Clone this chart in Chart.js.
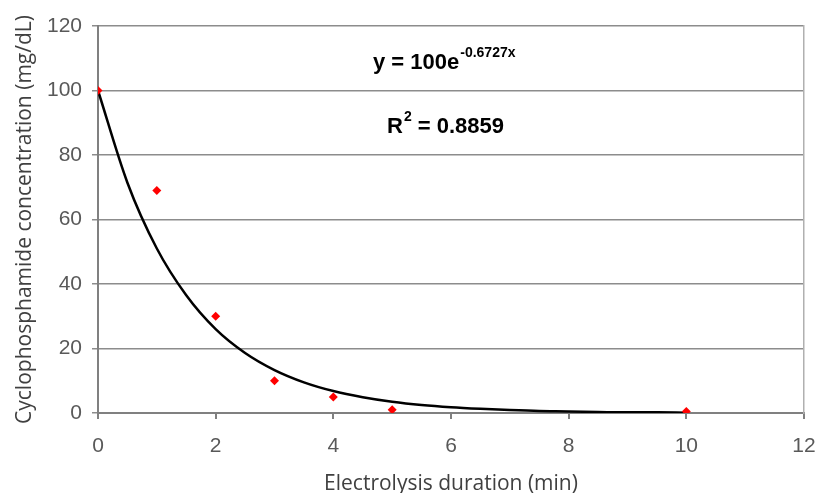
<!DOCTYPE html>
<html>
<head>
<meta charset="utf-8">
<script src="https://cdn.jsdelivr.net/npm/chart.js@4"></script>
<style>
  html, body { margin: 0; padding: 0; background: #fff; }
  #wrap { width: 818px; height: 493px; }
</style>
</head>
<body>
<div id="wrap"><canvas id="chart"></canvas></div>
<script>
// measured points
const durations = [0, 1, 2, 3, 4, 5, 10];
const concentrations = [100, 69, 30, 10, 5, 1, 0.5];

// exponential trendline
const fitX = [0, 0.5, 1, 1.5, 2, 2.5, 3, 3.5, 4, 4.5, 5, 5.5, 6, 6.5, 7, 7.5, 8, 8.5, 9, 9.5, 10];
const fitY = [100, 71.4, 51, 36.5, 26, 18.6, 13.3, 9.5, 6.8, 4.9, 3.5, 2.5, 1.8, 1.3, 0.9, 0.6, 0.5, 0.3, 0.2, 0.2, 0.1];

const xTitle = "Electrolysis duration (min)";
const yTitle = "Cyclophosphamide concentration (mg/dL)";
const eqMain = "y = 100e";
const eqExp = "-0.6727x";
const r2Label = "R";
const r2Value = " = 0.8859";

const tickFont = { family: "Liberation Sans, Arial", size: 21 };
const titleFont = { family: "Open Sans, Lato", size: 21 };

// draws the trendline equation and R² like the excel labels
const equationLabel = {
  id: "equationLabel",
  afterDatasetsDraw: function (chart) {
    const ctx = chart.ctx;
    ctx.save();
    ctx.fillStyle = "#000";
    ctx.textBaseline = "alphabetic";
    ctx.font = "bold 22px 'Liberation Sans', Arial";
    ctx.fillText(eqMain, 373, 69);
    let w = ctx.measureText(eqMain).width;
    ctx.font = "bold 14px 'Liberation Sans', Arial";
    ctx.fillText(eqExp, 373 + w + 1, 57);

    ctx.font = "bold 22px 'Liberation Sans', Arial";
    ctx.fillText(r2Label, 387, 133);
    let rw = ctx.measureText(r2Label).width;
    ctx.font = "bold 14px 'Liberation Sans', Arial";
    ctx.fillText("2", 387 + rw + 1, 121);
    let sw = ctx.measureText("2").width;
    ctx.font = "bold 22px 'Liberation Sans', Arial";
    ctx.fillText(r2Value, 387 + rw + sw + 1, 133);
    ctx.restore();
  },
};

const pointData = durations.map((x, i) => ({ x: x, y: concentrations[i] }));
const fitData = fitX.map((x, i) => ({ x: x, y: fitY[i] }));

new Chart("chart", {
  type: "scatter",
  data: {
    datasets: [
      {
        label: "measured",
        data: pointData,
        pointStyle: "rectRot",
        pointRadius: 4.5,
        backgroundColor: "#ff0000",
        borderColor: "#ff0000",
        borderWidth: 0,
      },
      {
        label: "fit",
        data: fitData,
        showLine: true,
        pointRadius: 0,
        borderColor: "#000",
        borderWidth: 2.5,
        cubicInterpolationMode: "monotone",
      },
    ],
  },
  options: {
    responsive: true,
    maintainAspectRatio: false,
    animation: false,
    layout: { padding: { top: 26, right: 14, left: 0, bottom: 0 } },
    plugins: { legend: { display: false }, tooltip: { enabled: false } },
    scales: {
      x: {
        type: "linear",
        min: 0,
        max: 12,
        ticks: { stepSize: 2, color: "#595959", font: tickFont, padding: 15 },
        grid: { drawOnChartArea: false, drawTicks: true, tickLength: 6, color: "#808080", lineWidth: 2 },
        border: { color: "#808080", width: 2 },
        title: { display: true, text: xTitle, color: "#404040", font: titleFont, padding: { top: 4, bottom: -4 } },
        afterFit: function (scale) {
          scale.height = 80;
          scale.paddingLeft = 0;
          scale.paddingRight = 0;
        },
      },
      y: {
        min: 0,
        max: 120,
        ticks: { stepSize: 20, color: "#595959", font: tickFont, padding: 10 },
        grid: { color: "#8c8c8c", lineWidth: 1.5, tickLength: 6 },
        border: { color: "#808080", width: 2 },
        title: { display: true, text: yTitle, color: "#404040", font: titleFont, padding: { top: 12, bottom: 4 } },
        afterFit: function (scale) { scale.width = 98; },
      },
      y2: {
        position: "right",
        min: 0,
        max: 120,
        ticks: { display: false },
        grid: { display: false },
        border: { display: true, color: "#b0b0b0", width: 1.5 },
        afterFit: function (scale) { scale.width = 0; },
      },
    },
  },
  plugins: [equationLabel],
});
</script>
</body>
</html>
